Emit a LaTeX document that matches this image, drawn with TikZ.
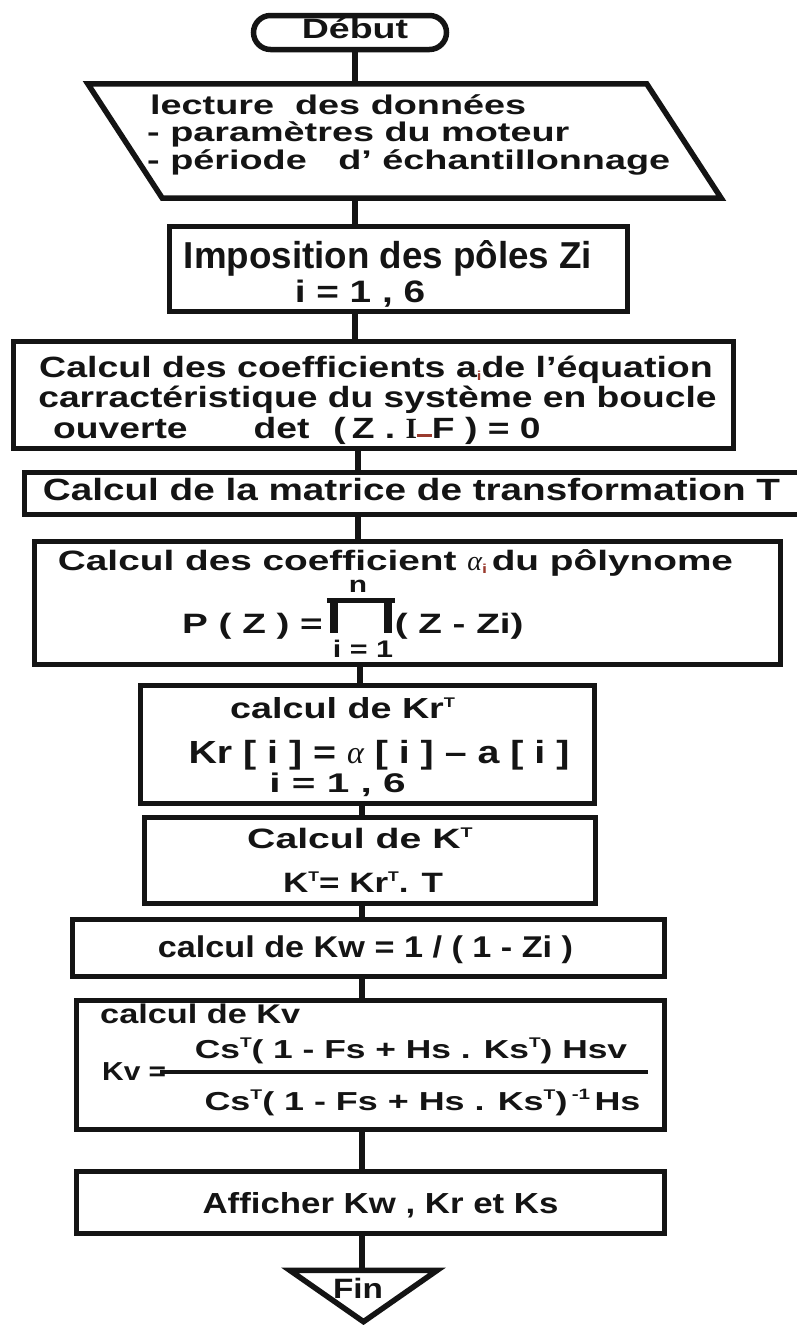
\documentclass[tikz,border=0pt]{standalone}
\usepackage{fontspec}
\setmainfont{Liberation Sans}[UprightFont=* Bold, BoldFont=* Bold]
\newfontfamily\serifI{Liberation Serif}[UprightFont=* Bold]
\newfontfamily\grk{Liberation Serif}[UprightFont=* Italic]
\usetikzlibrary{calc}
\definecolor{ink}{HTML}{141414}
\definecolor{redink}{HTML}{9A3B2E}
\newcommand\ft[2]{\fontsize{#1pt}{#1pt}\selectfont\addfontfeature{FakeStretch=#2}}
\newcommand\supT{\raisebox{11pt}{\fontsize{14pt}{14pt}\selectfont T}}
\newcommand\subi{\raisebox{-3pt}{\fontsize{13pt}{13pt}\selectfont\color{redink}i}}
\newcommand\lowdash{{\color{redink}\rule[1pt]{15pt}{3pt}}}
\newcommand\prodglyph{\rlap{\rule[30pt]{68pt}{5pt}}\hspace{3pt}\rule{8pt}{33pt}\hspace{46pt}\rule{8pt}{33pt}\hspace{3pt}}
\tikzset{
  box/.style={draw=ink, line width=5.5pt, inner sep=0pt, rectangle},
  boxline/.style={draw=ink, line width=5.5pt, line join=miter},
  conn/.style={draw=ink, line width=6pt},
  fracbar/.style={draw=ink, line width=4.5pt},
  txt/.style={inner sep=0pt, anchor=base, text=ink},
  txtl/.style={inner sep=0pt, anchor=base west, text=ink},
}
\begin{document}
\begin{tikzpicture}[x=1pt,y=-1pt]
\useasboundingbox (0,0) rectangle (797,1325);
\fill[white] (0,0) rectangle (797,1325);

% spine positions
\coordinate (xa) at (355,0);
\coordinate (xb) at (358,0);
\coordinate (xc) at (360,0);
\coordinate (xd) at (362,0);

% boxes
\node[box, rounded corners=17pt, minimum width=193pt, minimum height=34pt] (debut) at (350,32.5) {};
\node[inner sep=0pt, minimum width=558.5pt, minimum height=114pt] (lect) at (404.5,141) {};
\draw[boxline] ($(lect.north west)+(-37.25,0)$) -- ($(lect.north east)+(-37.25,0)$)
   -- ($(lect.south east)+(37.25,0)$) -- ($(lect.south west)+(37.25,0)$) -- cycle;
\node[box, minimum width=458pt, minimum height=85pt] (imp) at (398.5,269) {};
\node[box, minimum width=720pt, minimum height=107pt] (ai) at (373.5,395) {};
\node[box, minimum width=781pt, minimum height=42pt] (mat) at (415,493.5) {};
\node[box, minimum width=746pt, minimum height=123pt] (alpha) at (407.5,603) {};
\node[box, minimum width=454pt, minimum height=118pt] (kr) at (367.5,744.5) {};
\node[box, minimum width=451pt, minimum height=86pt] (kt) at (370,860.5) {};
\node[box, minimum width=592pt, minimum height=57pt] (kw) at (368.5,948) {};
\node[box, minimum width=588pt, minimum height=129pt] (kv) at (370.5,1065) {};
\node[box, minimum width=588pt, minimum height=62pt] (aff) at (370.5,1202.5) {};
\node[inner sep=0pt, minimum width=147pt, minimum height=51pt] (fin) at (363.5,1296) {};
\draw[boxline] (fin.north west) -- (fin.north east) -- (fin.south) -- cycle;

% connectors
\draw[conn] (debut.south -| xa) -- (lect.north -| xa);
\draw[conn] (lect.south -| xa) -- (imp.north -| xa);
\draw[conn] (imp.south -| xa) -- (ai.north -| xa);
\draw[conn] (ai.south -| xb) -- (mat.north -| xb);
\draw[conn] (mat.south -| xb) -- (alpha.north -| xb);
\draw[conn] (alpha.south -| xc) -- (kr.north -| xc);
\draw[conn] (kr.south -| xd) -- (kt.north -| xd);
\draw[conn] (kt.south -| xd) -- (kw.north -| xd);
\draw[conn] (kw.south -| xd) -- (kv.north -| xd);
\draw[conn] (kv.south -| xd) -- (aff.north -| xd);
\draw[conn] (aff.south -| xd) -- (fin.north -| xd);

% texts
\node[txt] (t-debut) at (355,38) {\ft{28}{1.34}Début};
\node[txtl] (t-l1) at (150,114) {\ft{27}{1.4}lecture~ des données};
\node[txtl] (t-l2) at (147,141) {\ft{27}{1.4}- paramètres du moteur};
\node[txtl] (t-l3) at (147,169) {\ft{27}{1.4}- période~~ d' échantillonnage};

\node[txt] (t-imp1) at (388,268) {\ft{37.5}{0.98}Imposition des pôles Zi};
\node[txt] (t-imp2) at (360,302) {\ft{31}{1.25}i = 1 , 6};

\node[txt] (t-ai1) at (376,377) {\ft{29.3}{1.28}Calcul des coefficients a\subi de l'équation};
\node[txt] (t-ai2) at (377.5,407) {\ft{29.3}{1.27}carractéristique du système en boucle};
\node[txtl] (t-ai3) at (53,438) {\ft{29.3}{1.27}ouverte\hspace{66pt}det\hspace{24pt}(\hspace{6pt}Z . {\serifI I}\lowdash F ) = 0};

\node[txt] (t-mat) at (411.5,500) {\ft{30.7}{1.26}Calcul de la matrice de transformation T};

\node[txt] (t-al1) at (395.5,570) {\ft{28}{1.385}Calcul des coefficient {\grk α}\subi\,du pôlynome};
\node[txtl] (t-al2) at (182,633) {\ft{28}{1.38}P ( Z ) =\hspace{4pt}\prodglyph( Z - Zi)};
\node[txt] (t-aln) at (358,592) {\ft{23}{1.3}n};
\node[txt] (t-ali) at (363,657) {\ft{24}{1.27}i = 1};

\node[txtl] (t-kr1) at (230,718) {\ft{29}{1.3}calcul de Kr\supT};
\node[txt] (t-kr2) at (379,763) {\ft{32}{1.23}Kr [ i ] = {\grk α} [ i ] – a [ i ]};
\node[txt] (t-kr3) at (337.5,792) {\ft{27}{1.5}i = 1 , 6};

\node[txtl] (t-kt1) at (247,848) {\ft{28}{1.4}Calcul de K\supT};
\node[txtl] (t-kt2) at (283,892) {\ft{28}{1.25}K\supT= Kr\supT . T};

\node[txt] (t-kw) at (365.5,957) {\ft{30}{1.14}calcul de Kw = 1 / ( 1 - Zi )};

\node[txtl] (t-kv1) at (100,1023) {\ft{27}{1.27}calcul de Kv};
\node[txtl] (t-kvl) at (102,1080) {\ft{26}{1.15}Kv =};
\node[txt] (t-num) at (411,1058) {\ft{26}{1.36}Cs\supT ( 1 - Fs + Hs . Ks\supT ) Hsv};
\node[txt] (t-den) at (422.5,1110) {\ft{26}{1.38}Cs\supT ( 1 - Fs + Hs . Ks\supT )\,\raisebox{11pt}{\fontsize{15pt}{15pt}\selectfont -1}\,Hs};
\coordinate (fbL) at (160,1072);
\coordinate (fbR) at (648,1072);
\draw[fracbar] (fbL) -- (fbR);

\node[txt] (t-aff) at (380.5,1213) {\ft{29}{1.2}Afficher Kw , Kr et Ks};
\node[txt] (t-fin) at (358,1298) {\ft{28}{1.19}Fin};
\end{tikzpicture}
\end{document}
